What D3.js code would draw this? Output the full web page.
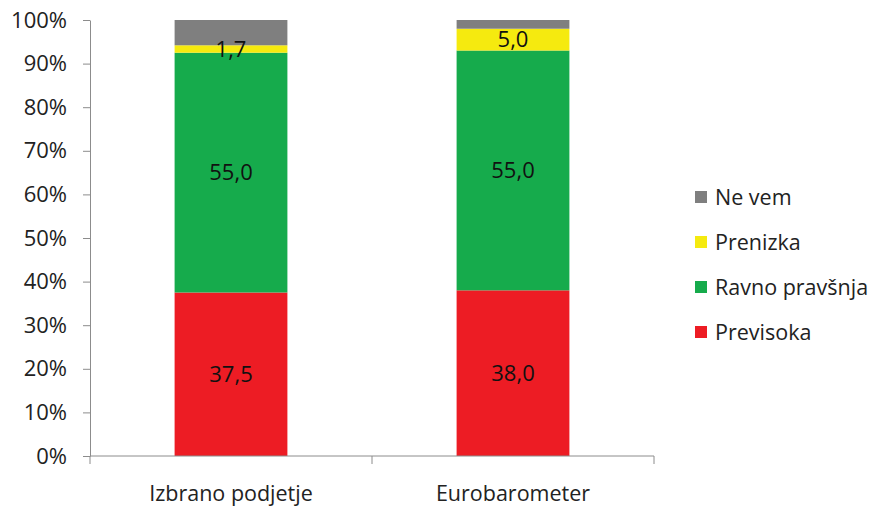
<!DOCTYPE html>
<html>
<head>
<meta charset="utf-8">
<script src="https://cdn.jsdelivr.net/npm/d3@7"></script>
<style>
  html, body { margin: 0; padding: 0; background: #fff; }
  svg { display: block; font-family: "Open Sans", sans-serif; }
</style>
</head>
<body>
<svg id="chart" width="872" height="508"></svg>
<script>
// Survey groups and answer shares (percent)
const categories = ["Izbrano podjetje", "Eurobarometer"];
const seriesNames = ["Previsoka", "Ravno pravšnja", "Prenizka", "Ne vem"];
const previsoka = [37.5, 38.0];
const ravnoPravsnja = [55.0, 55.0];
const prenizka = [1.7, 5.0];
const neVem = [5.8, 2.0];
const seriesColors = ["#ed1c24", "#16ab4c", "#f5ea0f", "#7f7f7f"];
const yTicks = [0, 10, 20, 30, 40, 50, 60, 70, 80, 90, 100];

const seriesValues = [previsoka, ravnoPravsnja, prenizka, neVem];
const rows = categories.map((c, i) => {
  const r = { category: c };
  seriesNames.forEach((s, k) => { r[s] = seriesValues[k][i]; });
  return r;
});

const svg = d3.select("#chart");
const plot = { left: 90, right: 654, top: 20, bottom: 456 };

const x = d3.scaleBand().domain(categories).range([plot.left, plot.right]).paddingInner(0.6).paddingOuter(0.3);
const y = d3.scaleLinear().domain([0, 100]).range([plot.bottom, plot.top]);

const stack = d3.stack().keys(seriesNames)(rows);

// Bars
const layers = svg.append("g").selectAll("g").data(stack).join("g")
  .attr("fill", (d, i) => seriesColors[i]);
layers.selectAll("rect").data(d => d).join("rect")
  .attr("x", d => x(d.data.category))
  .attr("width", x.bandwidth())
  .attr("y", d => y(d[1]))
  .attr("height", d => y(d[0]) - y(d[1]));

// Value labels (all but "Ne vem")
stack.slice(0, 3).forEach(layer => {
  svg.append("g").selectAll("text").data(layer).join("text")
    .attr("x", d => x(d.data.category) + x.bandwidth() / 2)
    .attr("y", d => y((d[0] + d[1]) / 2))
    .attr("dy", "0.35em")
    .attr("text-anchor", "middle")
    .attr("font-size", 22)
    .attr("fill", "#111")
    .text(d => d3.format(".1f")(d[1] - d[0]).replace(".", ","));
});

// Y axis
const yAxis = d3.axisLeft(y).tickValues(yTicks).tickFormat(d => d + "%").tickSize(7).tickSizeOuter(0);
const gy = svg.append("g").attr("transform", `translate(${plot.left},0)`).call(yAxis);
gy.select(".domain").attr("stroke", "#8c8c8c");
gy.selectAll(".tick line").attr("stroke", "#8c8c8c");
gy.selectAll(".tick text").attr("font-size", 22).attr("fill", "#222").attr("x", -23)
  .attr("font-family", "'Open Sans', sans-serif");

// X axis with category separators
const gx = svg.append("g").attr("transform", `translate(0,${plot.bottom})`);
gx.append("line").attr("x1", plot.left).attr("x2", plot.right).attr("stroke", "#8c8c8c");
const edges = [plot.left, (x(categories[0]) + x.bandwidth() + x(categories[1])) / 2, plot.right];
gx.selectAll("line.sep").data(edges).join("line").attr("class", "sep")
  .attr("x1", d => d).attr("x2", d => d).attr("y1", 0).attr("y2", 8).attr("stroke", "#8c8c8c");
gx.selectAll("text").data(categories).join("text")
  .attr("x", d => x(d) + x.bandwidth() / 2)
  .attr("y", 45)
  .attr("text-anchor", "middle")
  .attr("font-size", 21.5)
  .attr("fill", "#222")
  .text(d => d);

// Legend (top-down: Ne vem, Prenizka, Ravno pravšnja, Previsoka)
const legendItems = seriesNames.map((s, i) => ({ name: s, color: seriesColors[i] })).reverse();
const lg = svg.append("g").attr("transform", "translate(695,197)");
const li = lg.selectAll("g").data(legendItems).join("g")
  .attr("transform", (d, i) => `translate(0,${i * 45})`);
li.append("rect").attr("x", 0).attr("y", -6).attr("width", 12).attr("height", 12).attr("fill", d => d.color);
li.append("text").attr("x", 20).attr("dy", "0.35em").attr("font-size", 21.5).attr("fill", "#222").text(d => d.name);
</script>
</body>
</html>
